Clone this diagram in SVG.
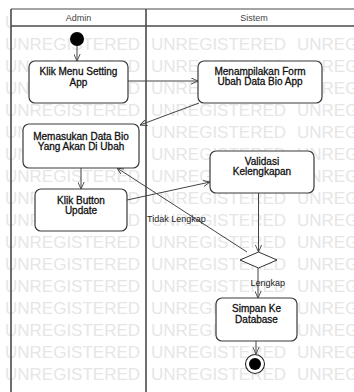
<svg xmlns="http://www.w3.org/2000/svg" width="354" height="392" viewBox="0 0 354 392">
<defs>
<style>
.wm{font-family:"Liberation Sans",Arial,sans-serif;font-size:17px;fill:#e6e6e6}
.lane{stroke:#4a4a4a;stroke-width:1.6;fill:none}
.hdr{font-family:"Liberation Sans",Arial,sans-serif;font-size:9px;fill:#444;text-anchor:middle}
.box{fill:#fff;stroke:#3a3a3a;stroke-width:1.2}
.t{font-family:"Liberation Sans",Arial,sans-serif;font-size:10px;fill:#111;text-anchor:middle;stroke:#111;stroke-width:0.3}
.lbl{font-family:"Liberation Sans",Arial,sans-serif;font-size:9px;fill:#222}
.c{stroke:#444;stroke-width:1;fill:none}
</style>
<clipPath id="leftEdge"><rect x="0" y="0" width="11" height="30"/></clipPath>
<marker id="arr" viewBox="0 0 10 10" refX="10" refY="5" markerWidth="7" markerHeight="7" markerUnits="userSpaceOnUse" orient="auto">
<path d="M0,0.5 L10,5 L0,9.5" fill="none" stroke="#444" stroke-width="1.3"/>
</marker>
</defs>
<rect width="354" height="392" fill="#fff"/>
<g id="watermark">
<text class="wm" y="28" clip-path="url(#leftEdge)"><tspan x="5">U</tspan></text>
<text class="wm" y="50"><tspan x="5">UNREGISTERED</tspan><tspan x="151">UNREGISTERED</tspan><tspan x="297">UNREGISTERED</tspan></text>
<text class="wm" y="72"><tspan x="5">UNREGISTERED</tspan><tspan x="151">UNREGISTERED</tspan><tspan x="297">UNREGISTERED</tspan></text>
<text class="wm" y="94"><tspan x="5">UNREGISTERED</tspan><tspan x="151">UNREGISTERED</tspan><tspan x="297">UNREGISTERED</tspan></text>
<text class="wm" y="116"><tspan x="5">UNREGISTERED</tspan><tspan x="151">UNREGISTERED</tspan><tspan x="297">UNREGISTERED</tspan></text>
<text class="wm" y="138"><tspan x="5">UNREGISTERED</tspan><tspan x="151">UNREGISTERED</tspan><tspan x="297">UNREGISTERED</tspan></text>
<text class="wm" y="160"><tspan x="5">UNREGISTERED</tspan><tspan x="151">UNREGISTERED</tspan><tspan x="297">UNREGISTERED</tspan></text>
<text class="wm" y="182"><tspan x="5">UNREGISTERED</tspan><tspan x="151">UNREGISTERED</tspan><tspan x="297">UNREGISTERED</tspan></text>
<text class="wm" y="204"><tspan x="5">UNREGISTERED</tspan><tspan x="151">UNREGISTERED</tspan><tspan x="297">UNREGISTERED</tspan></text>
<text class="wm" y="226"><tspan x="5">UNREGISTERED</tspan><tspan x="151">UNREGISTERED</tspan><tspan x="297">UNREGISTERED</tspan></text>
<text class="wm" y="248"><tspan x="5">UNREGISTERED</tspan><tspan x="151">UNREGISTERED</tspan><tspan x="297">UNREGISTERED</tspan></text>
<text class="wm" y="270"><tspan x="5">UNREGISTERED</tspan><tspan x="151">UNREGISTERED</tspan><tspan x="297">UNREGISTERED</tspan></text>
<text class="wm" y="292"><tspan x="5">UNREGISTERED</tspan><tspan x="151">UNREGISTERED</tspan><tspan x="297">UNREGISTERED</tspan></text>
<text class="wm" y="314"><tspan x="5">UNREGISTERED</tspan><tspan x="151">UNREGISTERED</tspan><tspan x="297">UNREGISTERED</tspan></text>
<text class="wm" y="336"><tspan x="5">UNREGISTERED</tspan><tspan x="151">UNREGISTERED</tspan><tspan x="297">UNREGISTERED</tspan></text>
<text class="wm" y="358"><tspan x="5">UNREGISTERED</tspan><tspan x="151">UNREGISTERED</tspan><tspan x="297">UNREGISTERED</tspan></text>
<text class="wm" y="380"><tspan x="5">UNREGISTERED</tspan><tspan x="151">UNREGISTERED</tspan><tspan x="297">UNREGISTERED</tspan></text>
</g>
<g id="swimlanes">
<rect x="11" y="9" width="352" height="17" fill="#fff"/>
<line class="lane" x1="11" y1="9" x2="354" y2="9" style="stroke-width:1.2"/>
<line class="lane" x1="11" y1="26" x2="354" y2="26"/>
<line class="lane" x1="11" y1="9" x2="11" y2="392"/>
<line class="lane" x1="146" y1="9" x2="146" y2="392"/>
<text class="hdr" x="78.5" y="21">Admin</text>
<text class="hdr" x="254" y="21">Sistem</text>
</g>
<g id="connectors">
<line class="c" x1="77" y1="46" x2="77" y2="61" marker-end="url(#arr)"/>
<line class="c" x1="128" y1="81" x2="198" y2="81" marker-end="url(#arr)"/>
<line class="c" x1="199" y1="103" x2="140" y2="125" marker-end="url(#arr)"/>
<line class="c" x1="81" y1="168" x2="81" y2="189" marker-end="url(#arr)"/>
<line class="c" x1="127" y1="200" x2="210" y2="182" marker-end="url(#arr)"/>
<line class="c" x1="258.5" y1="193" x2="258.5" y2="252" marker-end="url(#arr)"/>
<line class="c" x1="247" y1="252" x2="117" y2="168" marker-end="url(#arr)"/>
<line class="c" x1="258" y1="268" x2="258" y2="298" marker-end="url(#arr)"/>
<line class="c" x1="256" y1="341" x2="256" y2="354" marker-end="url(#arr)"/>
<text class="lbl" x="147" y="222">Tidak Lengkap</text>
<text class="lbl" x="250.5" y="286">Lengkap</text>
</g>
<g id="start">
<circle cx="77" cy="39" r="7" fill="#000"/>
</g>
<g id="klik-menu">
<rect class="box" x="29" y="61" width="99" height="42" rx="6"/>
<text class="t" x="78.5" y="75">Klik Menu Setting</text>
<text class="t" x="78.5" y="85.5">App</text>
</g>
<g id="menampilkan-form">
<rect class="box" x="198" y="61" width="124" height="42" rx="6"/>
<text class="t" x="260" y="75">Menampilakan Form</text>
<text class="t" x="260" y="85">Ubah Data Bio App</text>
</g>
<g id="memasukan-data">
<rect class="box" x="23" y="124" width="116" height="44" rx="6"/>
<text class="t" x="81" y="139.5">Memasukan Data Bio</text>
<text class="t" x="81" y="149.5">Yang Akan Di Ubah</text>
</g>
<g id="klik-button">
<rect class="box" x="35" y="189" width="92" height="42" rx="6"/>
<text class="t" x="81" y="203.5">Klik Button</text>
<text class="t" x="81" y="213.5">Update</text>
</g>
<g id="validasi">
<rect class="box" x="210" y="151" width="104" height="42" rx="6"/>
<text class="t" x="262" y="165">Validasi</text>
<text class="t" x="262" y="175">Kelengkapan</text>
</g>
<g id="decision">
<polygon points="240,260 258.5,252 277,260 258.5,268" fill="#fff" stroke="#333" stroke-width="1"/>
</g>
<g id="simpan">
<rect class="box" x="216" y="298" width="81" height="43" rx="6"/>
<text class="t" x="256.5" y="312">Simpan Ke</text>
<text class="t" x="256.5" y="322.5">Database</text>
</g>
<g id="end">
<circle cx="255" cy="364" r="9.5" fill="#fff" stroke="#222" stroke-width="1.1"/>
<circle cx="255" cy="364" r="6" fill="#000"/>
</g>
</svg>
